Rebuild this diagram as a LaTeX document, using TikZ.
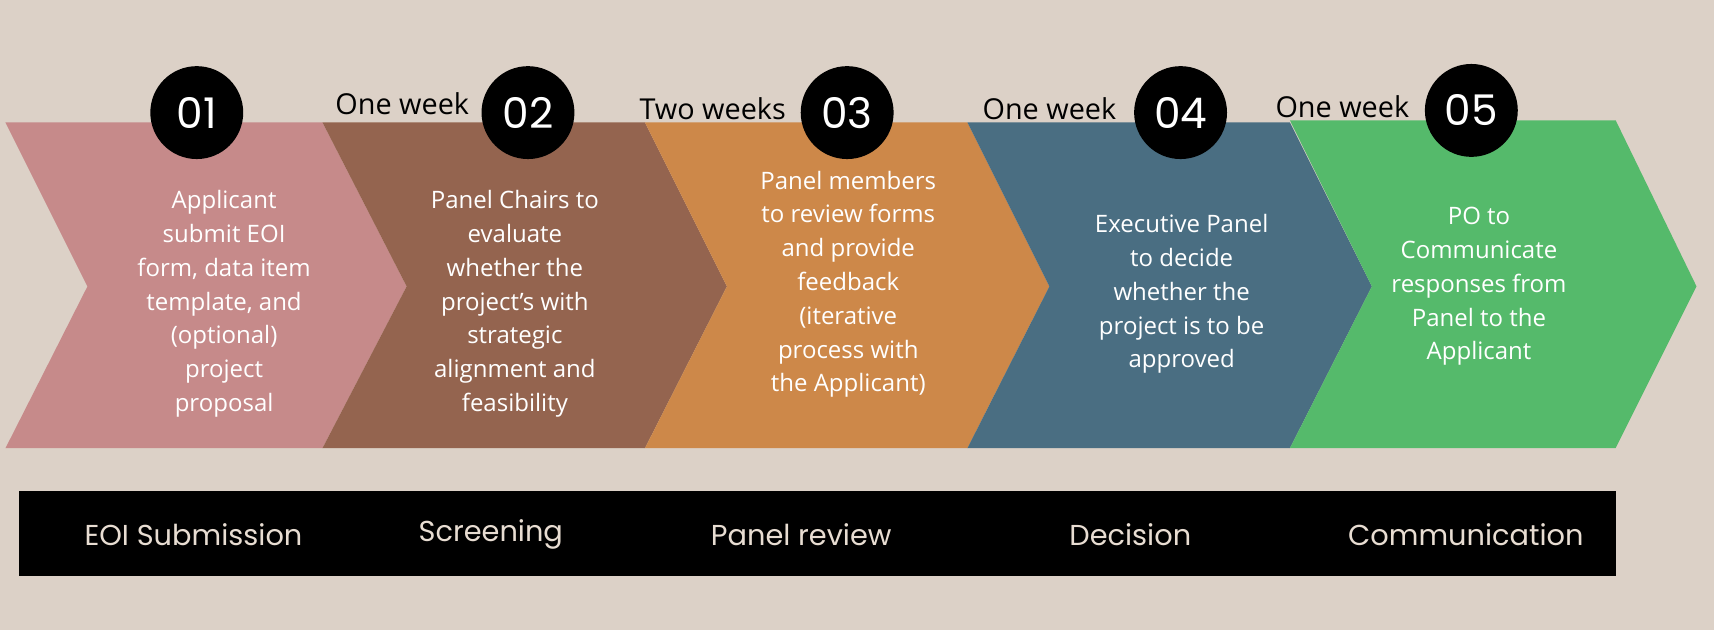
\documentclass[tikz,border=0pt]{standalone}
\usepackage{fontspec}
\setmainfont{Open Sans}
\newfontfamily\pop{Poppins}
\definecolor{bg}{HTML}{DCD1C7}
\definecolor{c1}{HTML}{C68A8A}
\definecolor{c2}{HTML}{94644F}
\definecolor{c3}{HTML}{CD8849}
\definecolor{c4}{HTML}{4A6E82}
\definecolor{c5}{HTML}{55BA6B}
\definecolor{lbl}{HTML}{E8DDD2}
\begin{document}
\begin{tikzpicture}[x=0.02cm,y=-0.02cm,
 body/.style={text=white,align=center,font=\fontsize{12.5pt}{17.6pt}\selectfont},
 num/.style={circle,fill=black,minimum size=1.7cm,inner sep=0pt,text=white,font=\pop\fontsize{22pt}{24pt}\selectfont},
 wk/.style={font=\fontsize{15pt}{18pt}\selectfont,text=black},
 bar/.style={text=lbl,font=\pop\fontsize{15pt}{18pt}\selectfont}]
\fill[bg] (0,0) rectangle (1568,576);
\useasboundingbox (0,0) rectangle (1568,576);
\fill[c1] (5,112)--(295,112)--(372,262)--(295,410)--(5,410)--(80,262)--cycle;
\fill[c2] (295,112)--(590,112)--(665,262)--(590,410)--(295,410)--(372,262)--cycle;
\fill[c3] (590,112)--(885,112)--(960,262)--(885,410)--(590,410)--(665,262)--cycle;
\fill[c4] (885,112)--(1180,112)--(1255,262)--(1180,410)--(885,410)--(960,262)--cycle;
\fill[c5] (1180,110)--(1478,110)--(1552,262)--(1478,410)--(1180,410)--(1255,262)--cycle;
\node[body] (t1) at (205,278) {Applicant\\submit EOI\\form, data item\\template, and\\(optional)\\project\\proposal};
\node[body] (t2) at (471,278) {Panel Chairs to\\evaluate\\whether the\\project's with\\strategic\\alignment and\\feasibility};
\node[body] (t3) at (776,260) {Panel members\\to review forms\\and provide\\feedback\\(iterative\\process with\\the Applicant)};
\node[body] (t4) at (1081,269) {Executive Panel\\to decide\\whether the\\project is to be\\approved};
\node[body] (t5) at (1353,262) {PO to\\Communicate\\responses from\\Panel to the\\Applicant};
\node[num] (n1) at (180,103) {01};
\node[num] (n2) at (483,103) {02};
\node[num] (n3) at (775,103) {03};
\node[num] (n4) at (1080,103) {04};
\node[num] (n5) at (1346,101) {05};
\node[wk] (w2) at (368,95) {One week};
\node[wk] (w3) at (652,99) {Two weeks};
\node[wk] (w4) at (960,99) {One week};
\node[wk] (w5) at (1228,98) {One week};
\fill[black] (17,449) rectangle (1478,527);
\node[bar] (b1) at (177,489) {EOI Submission};
\node[bar] (b2) at (449,489) {Screening};
\node[bar] (b3) at (733,489) {Panel review};
\node[bar] (b4) at (1034,489) {Decision};
\node[bar] (b5) at (1341,489) {Communication};
\end{tikzpicture}
\end{document}
